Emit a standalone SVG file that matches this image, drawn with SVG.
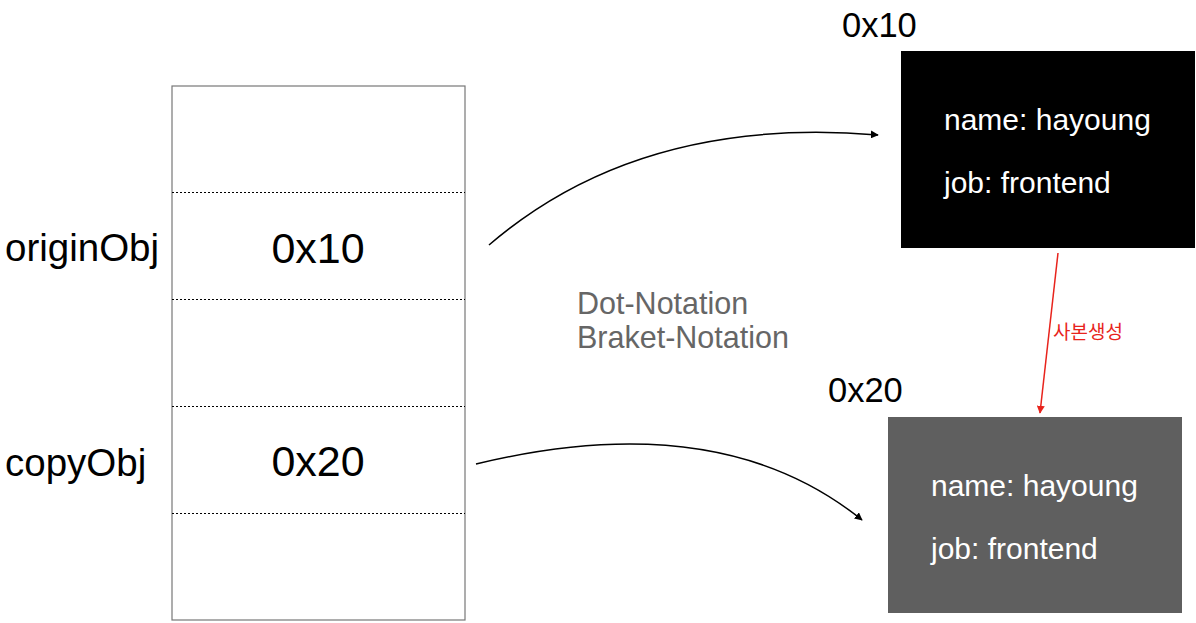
<svg xmlns="http://www.w3.org/2000/svg" width="1196" height="623" viewBox="0 0 1196 623">
<style>
text{font-family:"Liberation Sans",Arial,"Noto Sans CJK KR",sans-serif}
.lbl{font-size:38.5px;fill:#000}
.addr{font-size:43px;fill:#000;text-anchor:middle}
.hdr{font-size:34.5px;fill:#000}
.prop{font-size:30px;fill:#fff}
.note{font-size:30.5px;fill:#666}
.div{stroke:#000;stroke-width:1;stroke-dasharray:2,2}
.conn{fill:none;stroke:#000;stroke-width:1.5}
</style>
<defs>
<marker id="ah" viewBox="0 0 10 10" refX="9" refY="5" markerWidth="8" markerHeight="8" markerUnits="userSpaceOnUse" orient="auto"><path d="M0,0 L10,5 L0,10 z" fill="#000"/></marker>
<marker id="ahr" viewBox="0 0 10 10" refX="9" refY="5" markerWidth="8" markerHeight="8" markerUnits="userSpaceOnUse" orient="auto"><path d="M0,0 L10,5 L0,10 z" fill="#e8231c"/></marker>
</defs>
<g id="memory">
<rect x="172" y="86" width="293" height="534" fill="#fff" stroke="#777" stroke-width="1.2"/>
<line class="div" x1="172" y1="192.5" x2="465" y2="192.5"/>
<line class="div" x1="172" y1="299.5" x2="465" y2="299.5"/>
<line class="div" x1="172" y1="406.5" x2="465" y2="406.5"/>
<line class="div" x1="172" y1="513.5" x2="465" y2="513.5"/>
<text class="addr" x="318" y="263">0x10</text>
<text class="addr" x="318" y="476">0x20</text>
</g>
<g id="originObj"><text class="lbl" x="5" y="261">originObj</text></g>
<g id="copyObj"><text class="lbl" x="5" y="476">copyObj</text></g>
<g id="obj1">
<text class="hdr" x="842" y="37">0x10</text>
<rect x="901" y="51" width="294" height="197" fill="#000"/>
<text class="prop" x="944" y="130">name: hayoung</text>
<text class="prop" x="944" y="193">job: frontend</text>
</g>
<g id="obj2">
<text class="hdr" x="828" y="402">0x20</text>
<rect x="888" y="417" width="294" height="196" fill="#5f5f5f"/>
<text class="prop" x="931" y="496">name: hayoung</text>
<text class="prop" x="931" y="559">job: frontend</text>
</g>
<g id="note">
<text class="note" x="577" y="314">Dot-Notation</text>
<text class="note" x="577" y="348">Braket-Notation</text>
</g>
<g id="connectors">
<path class="conn" d="M489,245 Q640,115 878,135" marker-end="url(#ah)"/>
<path class="conn" d="M476,464 Q720,405 862,520" marker-end="url(#ah)"/>
<line x1="1058" y1="253" x2="1040" y2="413" stroke="#e8231c" stroke-width="1.5" marker-end="url(#ahr)"/>
<text x="1053" y="339" font-size="19" fill="#e8231c">사본생성</text>
</g>
</svg>
